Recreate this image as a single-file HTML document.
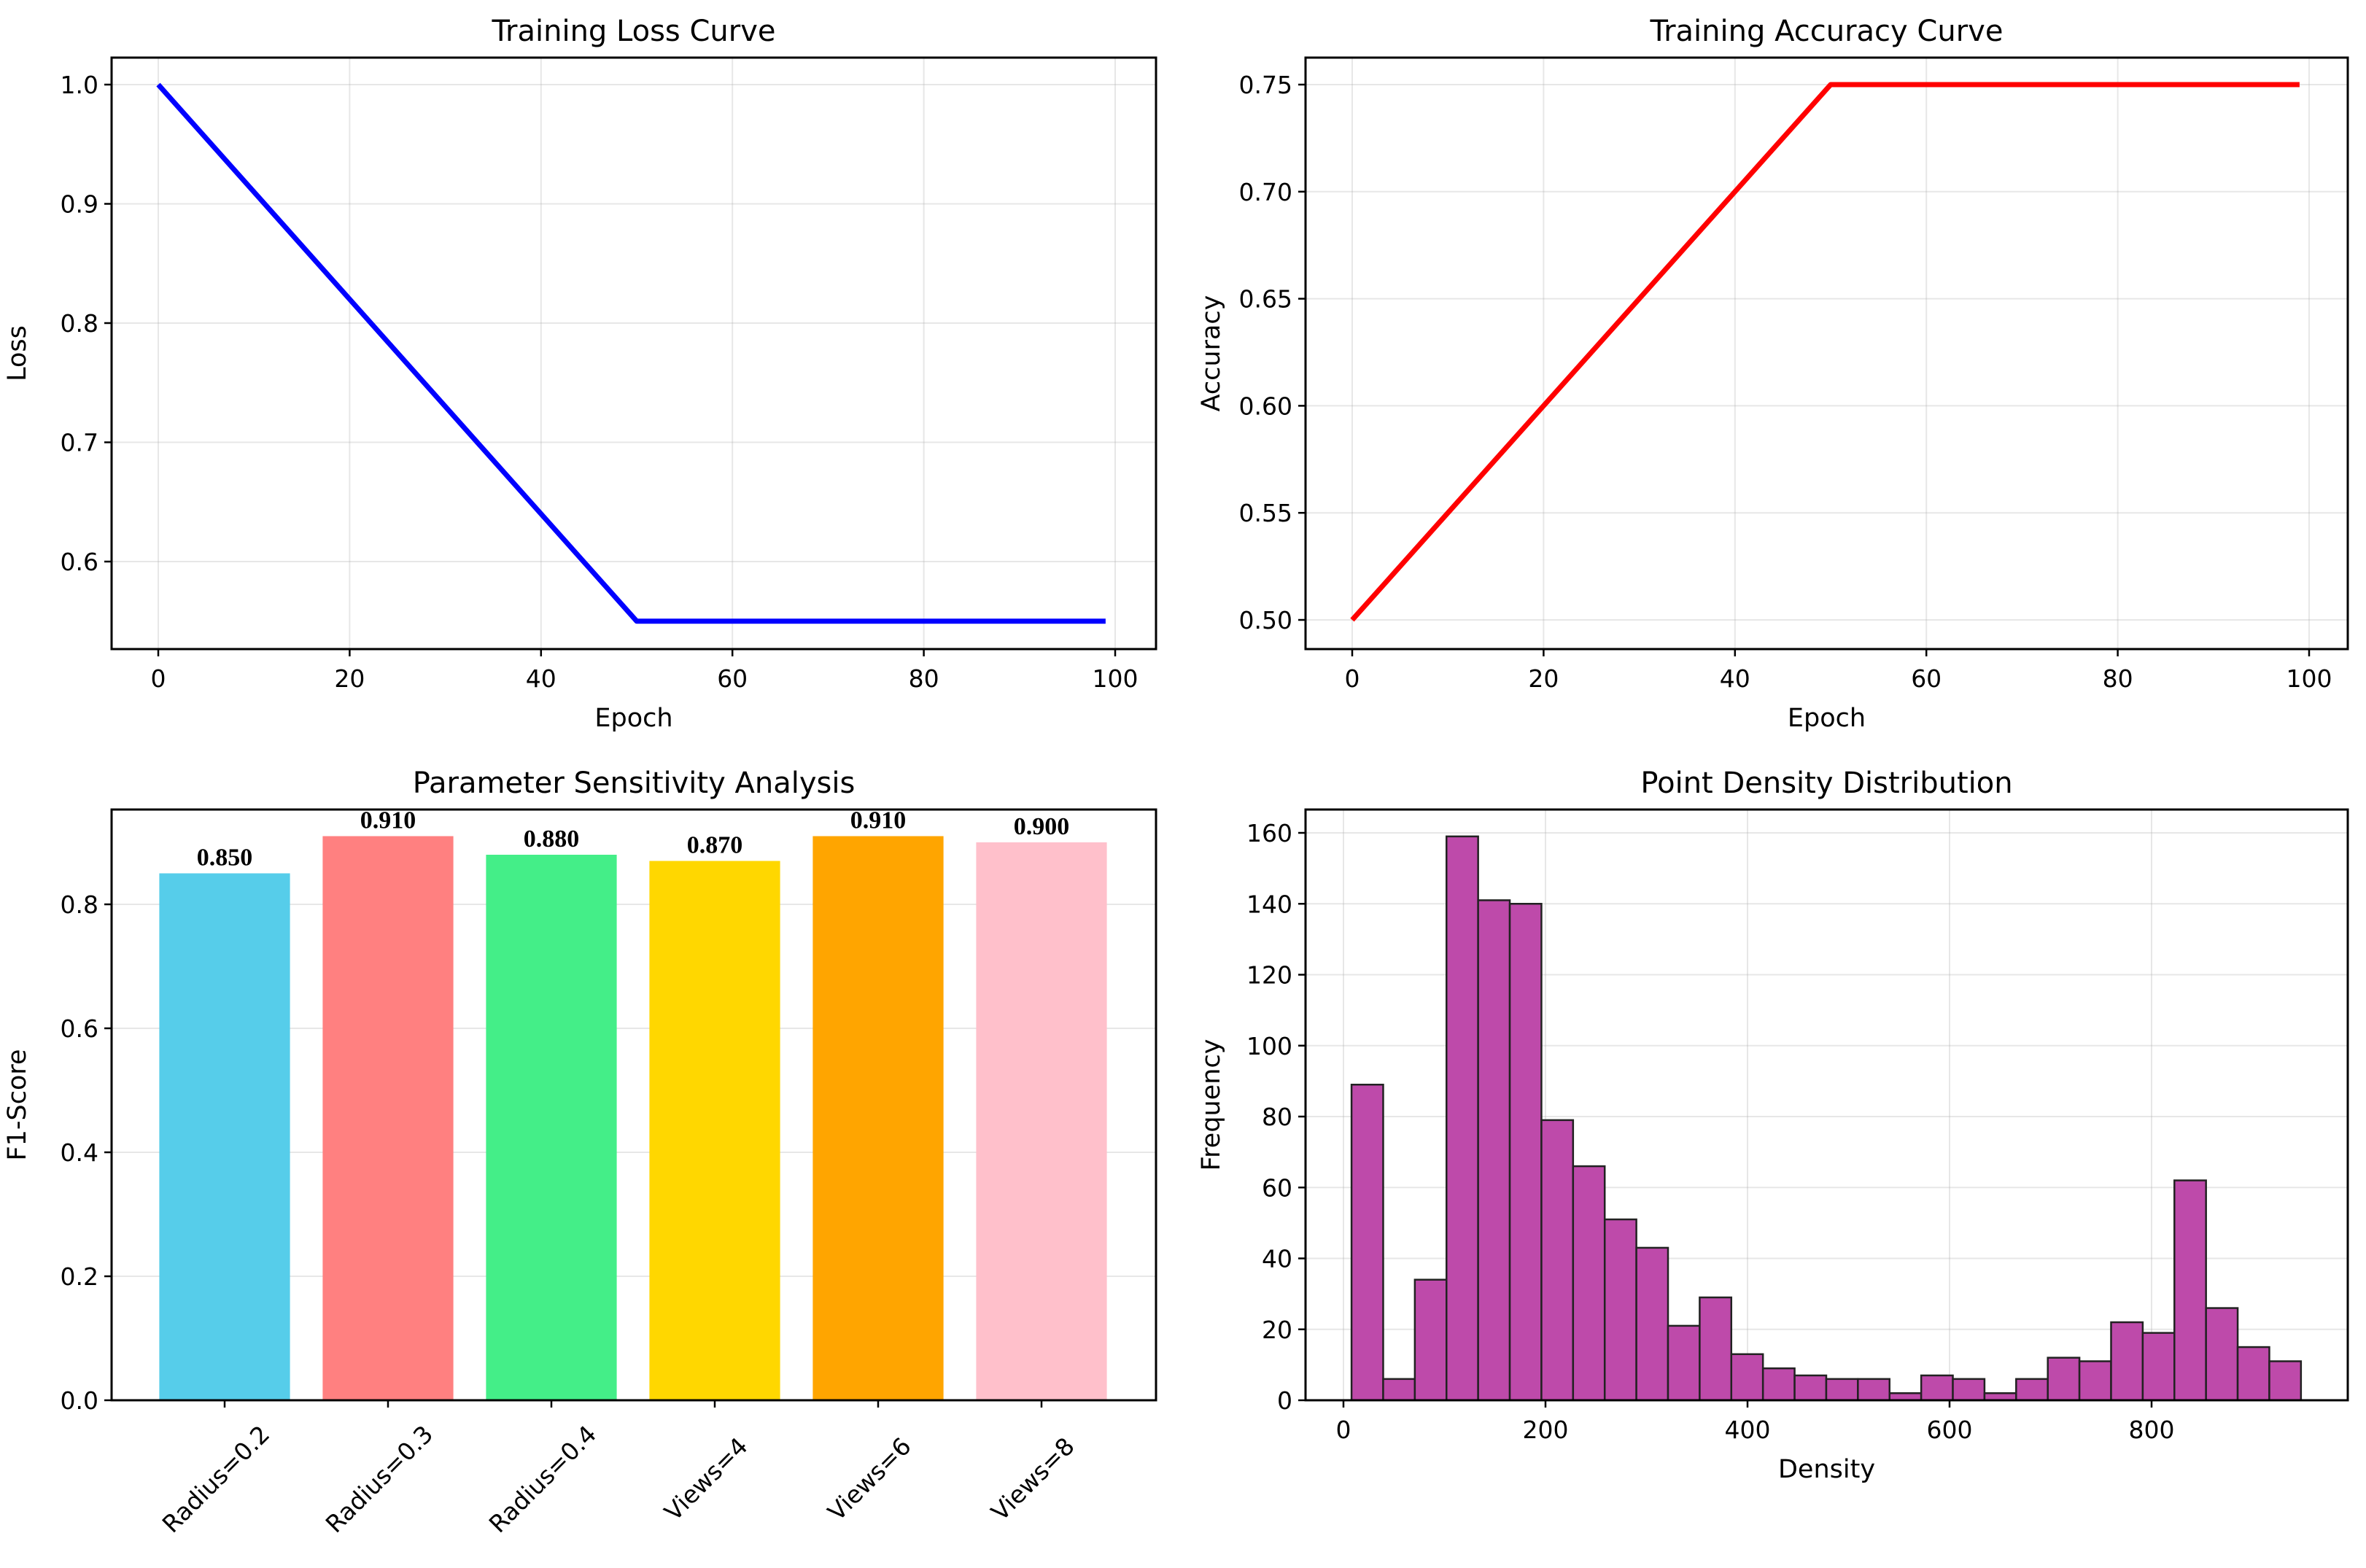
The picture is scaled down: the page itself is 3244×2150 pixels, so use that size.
<!DOCTYPE html>
<html><head><meta charset="utf-8"><style>
html,body{margin:0;padding:0;background:#fff;}
svg{display:block;font-family:"DejaVu Sans","Liberation Sans",sans-serif;}
</style></head><body>
<svg id="fig" width="3244" height="2150" viewBox="0 0 3244 2150" xmlns="http://www.w3.org/2000/svg"></svg>
<script>
const lossEpochs = [0, 50, 99];
const lossValues = [1.0, 0.55, 0.55];
const lossXTicks = [0, 20, 40, 60, 80, 100];
const lossYTicks = [0.6, 0.7, 0.8, 0.9, 1.0];
const accEpochs = [0, 50, 99];
const accValues = [0.5, 0.75, 0.75];
const accXTicks = [0, 20, 40, 60, 80, 100];
const accYTicks = [0.50, 0.55, 0.60, 0.65, 0.70, 0.75];
const paramNames = ["Radius=0.2","Radius=0.3","Radius=0.4","Views=4","Views=6","Views=8"];
const paramScores = [0.85, 0.91, 0.88, 0.87, 0.91, 0.90];
const paramColors = ["#56CDEA","#FF8080","#44EE88","#FFD700","#FFA500","#FFC0CB"];
const f1YTicks = [0.0, 0.2, 0.4, 0.6, 0.8];
const histStart = 8;
const histBinWidth = 31.33;
const histCounts = [89,6,34,159,141,140,79,66,51,43,21,29,13,9,7,6,6,2,7,6,2,6,12,11,22,19,62,26,15,11];
const histXTicks = [0, 200, 400, 600, 800];
const histYTicks = [0, 20, 40, 60, 80, 100, 120, 140, 160];

const svg = document.getElementById('fig');
const NS = 'http://www.w3.org/2000/svg';
function mk(tag, attrs, parent, text){
  const e = document.createElementNS(NS, tag);
  for (const k in attrs) e.setAttribute(k, attrs[k]);
  if (text !== undefined) e.textContent = text;
  (parent || svg).appendChild(e);
  return e;
}
function lin(d0,d1,r0,r1){ return v => r0 + (v-d0)*(r1-r0)/(d1-d0); }

function axesFrame(g, box, xs, ys, xTicks, yTicks, fmtX, fmtY, name){
  xTicks.forEach(t=>{ const x=xs(t); if(x>=box.l&&x<=box.r){
    const l=mk('line',{x1:x,x2:x,y1:box.t,y2:box.b,stroke:'#b0b0b0','stroke-opacity':0.3,'stroke-width':2},g);
     }});
  yTicks.forEach(t=>{ const y=ys(t);
    const l=mk('line',{x1:box.l,x2:box.r,y1:y,y2:y,stroke:'#b0b0b0','stroke-opacity':0.3,'stroke-width':2},g);
     });
}
function axesDecor(g, box, xs, ys, xTicks, yTicks, fmtX, fmtY, name, showXLabels){
  const fr = mk('rect',{x:box.l,y:box.t,width:box.r-box.l,height:box.b-box.t,fill:'none',stroke:'#000','stroke-width':3},g);
   
  xTicks.forEach(t=>{ const x=xs(t);
    mk('line',{x1:x,x2:x,y1:box.b,y2:box.b+10,stroke:'#000','stroke-width':2.5},g);
    if(showXLabels!==false){
      const tx=mk('text',{x:x,y:box.b+52,'text-anchor':'middle','font-size':33,fill:'#000'},g,fmtX(t));
       
    }});
  yTicks.forEach(t=>{ const y=ys(t);
    mk('line',{x1:box.l-10,x2:box.l,y1:y,y2:y,stroke:'#000','stroke-width':2.5},g);
    const ty=mk('text',{x:box.l-18,y:y+12,'text-anchor':'end','font-size':33,fill:'#000'},g,fmtY(t));
     });
}
function titles(g, box, title, xl, yl, name, xlY){
  const cx=(box.l+box.r)/2, cy=(box.t+box.b)/2;
  const t=mk('text',{x:cx,y:box.t-23,'text-anchor':'middle','font-size':40,fill:'#000'},g,title);
   
  if(xl){ const x=mk('text',{x:cx,y:xlY||box.b+106,'text-anchor':'middle','font-size':35,fill:'#000'},g,xl);
     }
  const yx = box.l-118;
  const y=mk('text',{x:yx,y:cy,'text-anchor':'middle','font-size':35,fill:'#000',transform:`rotate(-90 ${yx} ${cy})`},g,yl);
   
}

(function(){
  const box={l:153,r:1585,t:79,b:890};
  const xs=lin(0,100,217,1529), ys=lin(0.6,1.0,770,116);
  const g=mk('g',{});  
  axesFrame(g,box,xs,ys,lossXTicks,lossYTicks,null,null,'loss');
  const p=mk('polyline',{points:lossEpochs.map((e,i)=>xs(e)+','+ys(lossValues[i])).join(' '),fill:'none',stroke:'#0000FF','stroke-width':7,'stroke-linejoin':'round'},g);
   
  axesDecor(g,box,xs,ys,lossXTicks,lossYTicks,t=>String(t),t=>t.toFixed(1),'loss');
  titles(g,box,'Training Loss Curve','Epoch','Loss','loss');
})();
(function(){
  const box={l:1790,r:3219,t:79,b:890};
  const xs=lin(0,100,1854,3166), ys=lin(0.5,0.75,850,116);
  const g=mk('g',{});  
  axesFrame(g,box,xs,ys,accXTicks,accYTicks,null,null,'accuracy');
  const p=mk('polyline',{points:accEpochs.map((e,i)=>xs(e)+','+ys(accValues[i])).join(' '),fill:'none',stroke:'#FF0000','stroke-width':7,'stroke-linejoin':'round'},g);
   
  axesDecor(g,box,xs,ys,accXTicks,accYTicks,t=>String(t),t=>t.toFixed(2),'accuracy');
  titles(g,box,'Training Accuracy Curve','Epoch','Accuracy','accuracy');
})();
(function(){
  const box={l:153,r:1585,t:1110,b:1920};
  const xs=lin(0,1,308,532), ys=lin(0,1,1920,1070);
  const g=mk('g',{});  
  axesFrame(g,box,xs,ys,[],f1YTicks,null,null,'sensitivity');
  const bw=(xs(1)-xs(0))*0.8;
  paramScores.forEach((v,i)=>{
    const x=xs(i);
    const r=mk('rect',{x:x-bw/2,y:ys(v),width:bw,height:ys(0)-ys(v),fill:paramColors[i]},g);
     
    const t=mk('text',{x:x,y:ys(v)-11,'text-anchor':'middle','font-size':34,'font-weight':'bold','font-family':'"Liberation Serif",serif',fill:'#000'},g,v.toFixed(3));
     
  });
  axesDecor(g,box,xs,ys,paramNames.map((_,i)=>i),f1YTicks,null,t=>t.toFixed(1),'sensitivity',false);
  paramNames.forEach((n,i)=>{
    const x=xs(i)-12, y=2028;
    const t=mk('text',{x:x,y:y,'text-anchor':'middle','dominant-baseline':'central','font-size':33,fill:'#000',transform:`rotate(-45 ${x} ${y})`},g,n);
     
  });
  titles(g,box,'Parameter Sensitivity Analysis',null,'F1-Score','sensitivity');
})();
(function(){
  const box={l:1790,r:3219,t:1110,b:1920};
  const xs=lin(0,800,1842,2950), ys=lin(0,160,1920,1142);
  const g=mk('g',{});  
  axesFrame(g,box,xs,ys,histXTicks,histYTicks,null,null,'histogram');
  histCounts.forEach((c,i)=>{
    const a=histStart+i*histBinWidth, b=a+histBinWidth;
    const r=mk('rect',{x:xs(a),y:ys(c),width:xs(b)-xs(a),height:ys(0)-ys(c),fill:'#BE4AAA',stroke:'#222','stroke-width':2.5},g);
     
  });
  axesDecor(g,box,xs,ys,histXTicks,histYTicks,t=>String(t),t=>String(t),'histogram');
  titles(g,box,'Point Density Distribution','Density','Frequency','histogram');
})();
</script>
</body></html>
